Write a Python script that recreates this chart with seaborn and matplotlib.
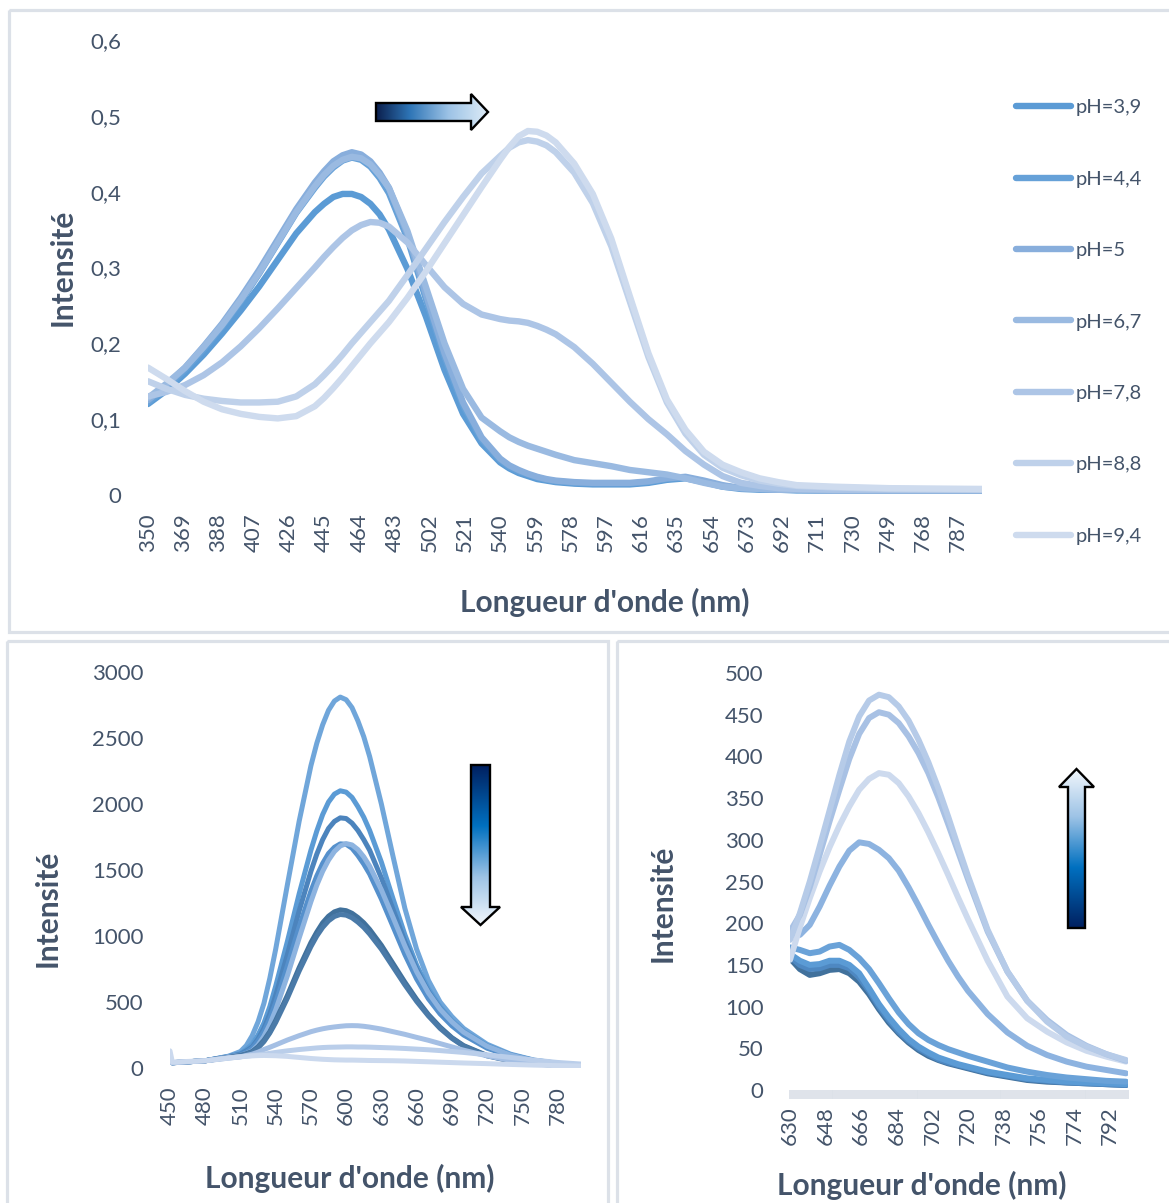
import numpy as np
import pandas as pd
import matplotlib
matplotlib.use("Agg")
import matplotlib.pyplot as plt
import seaborn as sns
from matplotlib.lines import Line2D
from matplotlib.patches import Polygon, Rectangle
from matplotlib.colors import LinearSegmentedColormap


# ----- DATA : top panel (absorption vs pH) -----
abs_nm = [350, 360, 370, 380, 390, 400, 410, 420, 430,
          440, 445, 450, 455, 460, 465, 470, 475, 480,
          490, 500, 510, 520, 530,
          540, 545, 550, 555, 560, 565, 570, 580,
          590, 600, 610, 620, 630, 640, 650, 660, 670, 680, 690, 700, 720, 750, 800]
abs_labels = ["pH=3,9", "pH=4,4", "pH=5", "pH=6,7", "pH=7,8", "pH=8,8", "pH=9,4"]
abs_39 = [0.12, 0.138, 0.16, 0.185, 0.213, 0.243, 0.275, 0.31, 0.345,
          0.373, 0.384, 0.393, 0.397, 0.397, 0.393, 0.384, 0.37, 0.35,
          0.298, 0.235, 0.165, 0.107, 0.068,
          0.043, 0.035, 0.029, 0.025, 0.021, 0.019, 0.017, 0.015,
          0.014, 0.014, 0.014, 0.016, 0.02, 0.022, 0.017, 0.011, 0.008, 0.007, 0.007, 0.006, 0.006, 0.006, 0.006]
abs_44 = [0.122, 0.142, 0.165, 0.192, 0.222, 0.255, 0.292, 0.332, 0.372,
          0.405, 0.42, 0.432, 0.441, 0.445, 0.442, 0.433, 0.418, 0.398,
          0.338, 0.258, 0.182, 0.118, 0.073,
          0.046, 0.037, 0.031, 0.027, 0.023, 0.02, 0.018, 0.016,
          0.015, 0.015, 0.015, 0.017, 0.021, 0.023, 0.018, 0.012, 0.009, 0.008, 0.007, 0.007, 0.006, 0.006, 0.006]
abs_5 = [0.125, 0.145, 0.168, 0.196, 0.226, 0.26, 0.297, 0.337, 0.377,
         0.412, 0.427, 0.44, 0.448, 0.452, 0.449, 0.44, 0.425, 0.405,
         0.344, 0.264, 0.187, 0.122, 0.076,
         0.048, 0.039, 0.033, 0.028, 0.024, 0.021, 0.019, 0.017,
         0.016, 0.016, 0.016, 0.018, 0.022, 0.024, 0.019, 0.013, 0.009, 0.008, 0.007, 0.007, 0.006, 0.006, 0.006]
abs_67 = [0.128, 0.147, 0.168, 0.195, 0.224, 0.257, 0.293, 0.333, 0.373,
          0.407, 0.422, 0.434, 0.442, 0.446, 0.444, 0.436, 0.422, 0.405,
          0.348, 0.274, 0.2, 0.14, 0.102,
          0.084, 0.076, 0.07, 0.065, 0.061, 0.057, 0.053, 0.046,
          0.042, 0.038, 0.033, 0.03, 0.027, 0.022, 0.016, 0.011, 0.009, 0.008, 0.007, 0.007, 0.006, 0.006, 0.006]
abs_78 = [0.13, 0.136, 0.145, 0.158, 0.175, 0.196, 0.22, 0.246, 0.273,
          0.3, 0.314, 0.327, 0.339, 0.349, 0.356, 0.36, 0.359, 0.354,
          0.333, 0.303, 0.274, 0.252, 0.238,
          0.232, 0.23, 0.229, 0.227, 0.223, 0.218, 0.212, 0.195,
          0.173, 0.148, 0.123, 0.1, 0.08, 0.058, 0.04, 0.025, 0.016, 0.012, 0.009, 0.008, 0.007, 0.007, 0.007]
abs_88 = [0.15, 0.14, 0.132, 0.127, 0.124, 0.122, 0.122, 0.123, 0.13,
          0.146, 0.158, 0.171, 0.185, 0.2, 0.214, 0.228, 0.242, 0.256,
          0.29, 0.325, 0.36, 0.393, 0.424,
          0.447, 0.458, 0.465, 0.468, 0.466, 0.461, 0.452, 0.425,
          0.385, 0.328, 0.255, 0.182, 0.122, 0.081, 0.053, 0.036, 0.026, 0.019, 0.015, 0.012, 0.01, 0.008, 0.007]
abs_94 = [0.168, 0.153, 0.137, 0.123, 0.113, 0.107, 0.103, 0.101, 0.104,
          0.117, 0.128, 0.141, 0.155, 0.17, 0.185, 0.2, 0.214, 0.228,
          0.26, 0.295, 0.332, 0.369, 0.406,
          0.442, 0.459, 0.473, 0.48, 0.479, 0.474, 0.465, 0.437,
          0.397, 0.338, 0.262, 0.187, 0.126, 0.086, 0.057, 0.04, 0.03, 0.022, 0.017, 0.013, 0.011, 0.009, 0.008]
abs_colors = ["#5B9BD5", "#66A1D8", "#88AEDC", "#9ABAE1", "#ADC5E6", "#BFD1EA", "#CEDBEE"]
abs_yticks = [0, 0.1, 0.2, 0.3, 0.4, 0.5, 0.6]
abs_yticklabels = ["0", "0,1", "0,2", "0,3", "0,4", "0,5", "0,6"]
abs_xticks = list(range(350, 800, 19))

# ----- DATA : bottom left (emission, decreasing) -----
em1_nm = [450, 452, 480, 500, 510,
          515, 520, 525, 530, 535,
          540, 550, 560, 570, 575,
          580, 585, 590, 595, 600,
          605, 610, 615, 620, 630,
          640, 650, 660, 670, 680,
          690, 700, 720, 740, 760,
          780, 800]
em1_s2800 = [45, 40, 55, 90, 125,
             170, 245, 350, 490, 680,
             900, 1390, 1870, 2290, 2460,
             2600, 2710, 2780, 2810, 2790,
             2730, 2630, 2510, 2360, 2000,
             1600, 1210, 900, 665, 500,
             390, 300, 180, 105, 60,
             36, 22]
em1_s2100 = [45, 40, 55, 88, 110,
             140, 180, 250, 340, 465,
             620, 960, 1320, 1650, 1795,
             1920, 2015, 2075, 2100, 2090,
             2050, 1980, 1900, 1800, 1560,
             1280, 1010, 780, 600, 465,
             360, 280, 170, 100, 58,
             35, 22]
em1_s1900 = [45, 40, 55, 85, 105,
             130, 160, 220, 300, 410,
             550, 860, 1190, 1490, 1620,
             1730, 1815, 1868, 1895, 1890,
             1855, 1800, 1730, 1650, 1440,
             1200, 960, 750, 580, 450,
             350, 272, 165, 98, 56,
             34, 21]
em1_s1700a = [45, 40, 55, 85, 100,
              120, 150, 205, 275, 375,
              495, 775, 1070, 1340, 1455,
              1550, 1625, 1672, 1698, 1695,
              1665, 1610, 1545, 1470, 1280,
              1070, 860, 675, 525, 410,
              320, 250, 150, 90, 52,
              32, 20]
em1_s1700b = [45, 40, 55, 85, 95,
              110, 130, 175, 240, 330,
              440, 700, 985, 1260, 1385,
              1490, 1575, 1640, 1682, 1700,
              1690, 1655, 1600, 1530, 1350,
              1140, 925, 730, 570, 445,
              350, 272, 165, 98, 56,
              34, 21]
em1_s1200 = [45, 40, 55, 80, 95,
             108, 125, 160, 210, 275,
             360, 550, 760, 950, 1030,
             1100, 1150, 1183, 1198, 1192,
             1172, 1140, 1100, 1050, 930,
             790, 650, 520, 405, 310,
             230, 170, 95, 55, 32,
             20, 14]
em1_s1180 = [45, 40, 55, 80, 93,
             105, 120, 152, 200, 265,
             345, 530, 735, 920, 1000,
             1065, 1115, 1148, 1163, 1158,
             1138, 1105, 1065, 1015, 900,
             765, 630, 505, 395, 300,
             225, 165, 92, 53, 31,
             19, 13]
em1_s310 = [45, 40, 55, 75, 85,
            95, 105, 120, 140, 157,
            175, 212, 245, 275, 287,
            297, 305, 311, 316, 320,
            321, 320, 316, 310, 295,
            275, 255, 232, 210, 185,
            160, 135, 92, 58, 36,
            24, 17]
em1_s160 = [45, 40, 55, 78, 85,
            90, 95, 100, 105, 111,
            118, 130, 140, 148, 152,
            155, 157, 158, 159, 160,
            160, 159, 159, 158, 155,
            152, 148, 143, 138, 132,
            125, 118, 100, 80, 60,
            42, 30]
em1_low = [130, 45, 55, 75, 85,
           89, 92, 94, 95, 94,
           93, 88, 80, 72, 69,
           66, 64, 62, 61, 60,
           60, 59, 58, 57, 56,
           55, 53, 50, 47, 44,
           41, 38, 33, 27, 22,
           18, 15]
em1_names = ["s2800", "s2100", "s1900", "s1700a", "s1700b", "s1200", "s1180", "s310", "s160", "low"]
em1_colors = ["#70A6DA", "#5B9BD5", "#4C84BD", "#5590CC", "#8EB4E0",
              "#41719C", "#4A7AA8", "#A4BFE4", "#BACEEA", "#CBD9EE"]
em1_yticks = [0, 500, 1000, 1500, 2000, 2500, 3000]
em1_xticks = list(range(450, 790, 30))

# ----- DATA : bottom right (emission, increasing) -----
em2_nm = [630, 635, 640, 645, 650, 655, 660, 665, 670, 675,
          680, 685, 690, 695, 700, 705, 710, 715, 720, 730,
          740, 750, 760, 770, 780, 790, 800]
em2_h = [158, 145, 138, 140, 144, 145, 140, 130, 115, 97,
         81, 68, 57, 48, 41, 36, 32, 29, 26, 20,
         16, 12, 10, 9, 8, 7, 6]
em2_g = [160, 150, 145, 146, 150, 150, 146, 135, 119, 100,
         84, 70, 59, 50, 43, 37, 33, 30, 27, 21,
         17, 13, 11, 9, 8, 7, 6]
em2_f = [163, 155, 150, 151, 155, 155, 150, 140, 122, 103,
         87, 73, 61, 52, 45, 39, 35, 31, 28, 22,
         18, 14, 12, 10, 9, 8, 7]
em2_e = [171, 168, 164, 166, 172, 174, 168, 158, 145, 128,
         110, 93, 79, 68, 60, 54, 49, 45, 41, 34,
         27, 22, 18, 15, 13, 11, 10]
em2_d = [190, 186, 198, 220, 245, 268, 287, 297, 295, 288,
         278, 263, 243, 221, 198, 176, 155, 136, 119, 91,
         69, 53, 42, 34, 28, 24, 20]
em2_c = [156, 195, 230, 262, 291, 317, 340, 360, 373, 380,
         378, 368, 352, 332, 309, 284, 258, 231, 205, 155,
         112, 86, 70, 57, 47, 40, 34]
em2_b = [190, 210, 243, 282, 322, 360, 397, 427, 446, 453,
         450, 440, 424, 404, 380, 351, 319, 286, 253, 190,
         142, 107, 84, 66, 53, 43, 35]
em2_a = [180, 212, 250, 292, 335, 378, 418, 448, 467, 474,
         471, 460, 443, 420, 393, 362, 328, 292, 257, 192,
         142, 107, 82, 64, 52, 43, 36]
em2_names = ["h", "g", "f", "e", "d", "c", "b", "a"]
em2_colors = ["#41719C", "#4E88C2", "#5B9BD5", "#6AA2D8", "#8DB3E0", "#CDDAEE", "#A8C1E4", "#B6CBE8"]
em2_yticks = [0, 50, 100, 150, 200, 250, 300, 350, 400, 450, 500]
em2_xticks = list(range(630, 800, 18))


def long_frame(nm, series, names):
    parts = []
    for name, vals in zip(names, series):
        parts.append(pd.DataFrame({"nm": nm, "val": vals, "serie": name}))
    return pd.concat(parts, ignore_index=True)


df_abs = long_frame(abs_nm, [abs_39, abs_44, abs_5, abs_67, abs_78, abs_88, abs_94], abs_labels)
df_em1 = long_frame(em1_nm, [em1_s2800, em1_s2100, em1_s1900, em1_s1700a, em1_s1700b,
                             em1_s1200, em1_s1180, em1_s310, em1_s160, em1_low], em1_names)
df_em2 = long_frame(em2_nm, [em2_h, em2_g, em2_f, em2_e, em2_d, em2_c, em2_b, em2_a], em2_names)

sns.set_style("white")
plt.rcParams["font.family"] = ["Lato", "DejaVu Sans"]
TXT = "#44546A"
W, H = 1169, 1203

fig = plt.figure(figsize=(W / 100, H / 100), dpi=100)


def px_axes(left, top, right, bottom):
    return fig.add_axes([left / W, 1 - bottom / H, (right - left) / W, (bottom - top) / H])


ax1 = px_axes(148, 40, 982, 495)
ax2 = px_axes(170, 672, 581, 1068)
ax3 = px_axes(790, 673, 1128, 1090)

line_kw = dict(estimator=None, sort=False, legend=False,
               solid_capstyle="round", solid_joinstyle="round")
sns.lineplot(data=df_abs, x="nm", y="val", hue="serie", hue_order=abs_labels,
             palette=abs_colors, linewidth=4.6, ax=ax1, **line_kw)
sns.lineplot(data=df_em1, x="nm", y="val", hue="serie", hue_order=em1_names,
             palette=em1_colors, linewidth=3.6, ax=ax2, **line_kw)
sns.lineplot(data=df_em2, x="nm", y="val", hue="serie", hue_order=em2_names,
             palette=em2_colors, linewidth=4.3, ax=ax3, **line_kw)

ax1.set_xlim(350, 800)
ax1.set_ylim(0, 0.6)
ax1.set_yticks(abs_yticks)
ax1.set_yticklabels(abs_yticklabels)
ax1.set_xticks(abs_xticks)

ax2.set_xlim(450, 800)
ax2.set_ylim(0, 3000)
ax2.set_yticks(em1_yticks)
ax2.set_xticks(em1_xticks)

ax3.set_xlim(630, 801)
ax3.set_ylim(0, 500)
ax3.set_yticks(em2_yticks)
ax3.set_xticks(em2_xticks)

for ax in (ax1, ax2, ax3):
    sns.despine(ax=ax, left=True, bottom=True)
    ax.set_facecolor("none")
    ax.tick_params(axis="y", length=0, pad=19, labelsize=16, labelcolor=TXT)
    ax.tick_params(axis="x", length=0, pad=13, labelsize=16, labelcolor=TXT, labelrotation=90)
    ax.set_ylabel("Intensité", fontsize=21.5, fontweight="bold", color=TXT, va="center")
    ax.set_xlabel("Longueur d'onde (nm)", fontsize=21.5, fontweight="bold", color=TXT, va="center")

# dense category ticks of the right chart (grey band)
ax3.xaxis.set_minor_locator(matplotlib.ticker.MultipleLocator(1))
ax3.tick_params(axis="x", which="both", bottom=True, direction="out",
                length=6.5, width=1.3, color="#DCE1E8", pad=5)

ax1.yaxis.set_label_coords(-0.102, 0.5)
ax1.xaxis.set_label_coords(0.548, -0.237)
ax2.yaxis.set_label_coords(-0.297, 0.404)
ax2.xaxis.set_label_coords(0.438, -0.278)
ax3.yaxis.set_label_coords(-0.376, 0.448)
ax3.xaxis.set_label_coords(0.391, -0.228)

# legend of the top chart
handles = [Line2D([], [], color=c, linewidth=4.6, solid_capstyle="round") for c in abs_colors]
fig.legend(handles, abs_labels, loc="upper left", bbox_to_anchor=(1016 / W, 1 - 99 / H),
           frameon=False, fontsize=14.5, labelcolor=TXT, handlelength=2.75,
           handletextpad=0.2, labelspacing=2.7, borderpad=0, borderaxespad=0)

# overlay in pixel coordinates: panel frames and gradient arrows
over = fig.add_axes([0, 0, 1, 1])
over.set_xlim(0, W)
over.set_ylim(H, 0)
over.axis("off")
over.patch.set_alpha(0)

frame_kw = dict(fill=False, edgecolor="#DCE1E8", linewidth=2.3)
over.add_patch(Rectangle((9, 10), 1175, 622, **frame_kw))
over.add_patch(Rectangle((7, 641), 601, 580, **frame_kw))
over.add_patch(Rectangle((617, 641), 580, 580, **frame_kw))

top_cmap = LinearSegmentedColormap.from_list(
    "top_arrow", [(0, "#0B1F4D"), (0.3, "#2E75B6"), (0.65, "#9DC3E6"), (1, "#DDEBF7")])
low_cmap = LinearSegmentedColormap.from_list(
    "low_arrow", [(0, "#002060"), (0.38, "#0070C0"), (0.7, "#9DC3E6"), (1, "#F2F7FC")])


def gradient_arrow(points, direction, cmap):
    pts = np.array(points, dtype=float)
    poly = Polygon(pts, closed=True, facecolor="none", edgecolor="black",
                   linewidth=1.7, joinstyle="miter", zorder=5)
    over.add_patch(poly)
    ramp = np.linspace(0, 1, 256)
    if direction == "right":
        img = ramp.reshape(1, -1)
    elif direction == "down":
        img = ramp.reshape(-1, 1)
    else:
        img = ramp[::-1].reshape(-1, 1)
    x0, x1 = pts[:, 0].min(), pts[:, 0].max()
    y0, y1 = pts[:, 1].min(), pts[:, 1].max()
    im = over.imshow(img, cmap=cmap, extent=(x0, x1, y1, y0),
                     origin="upper", aspect="auto", zorder=4, interpolation="bilinear")
    im.set_clip_path(poly)


gradient_arrow([(376, 103), (471, 103), (471, 94), (488, 112),
                (471, 130), (471, 121), (376, 121)], "right", top_cmap)
gradient_arrow([(471, 765), (490, 765), (490, 907), (500, 907),
                (480.5, 925), (461, 907), (471, 907)], "down", low_cmap)
gradient_arrow([(1068, 928), (1085, 928), (1085, 787), (1094, 787),
                (1076.5, 769), (1059, 787), (1068, 787)], "up", low_cmap)
over.set_xlim(0, W)
over.set_ylim(H, 0)

fig.savefig("out.png", dpi=100)
